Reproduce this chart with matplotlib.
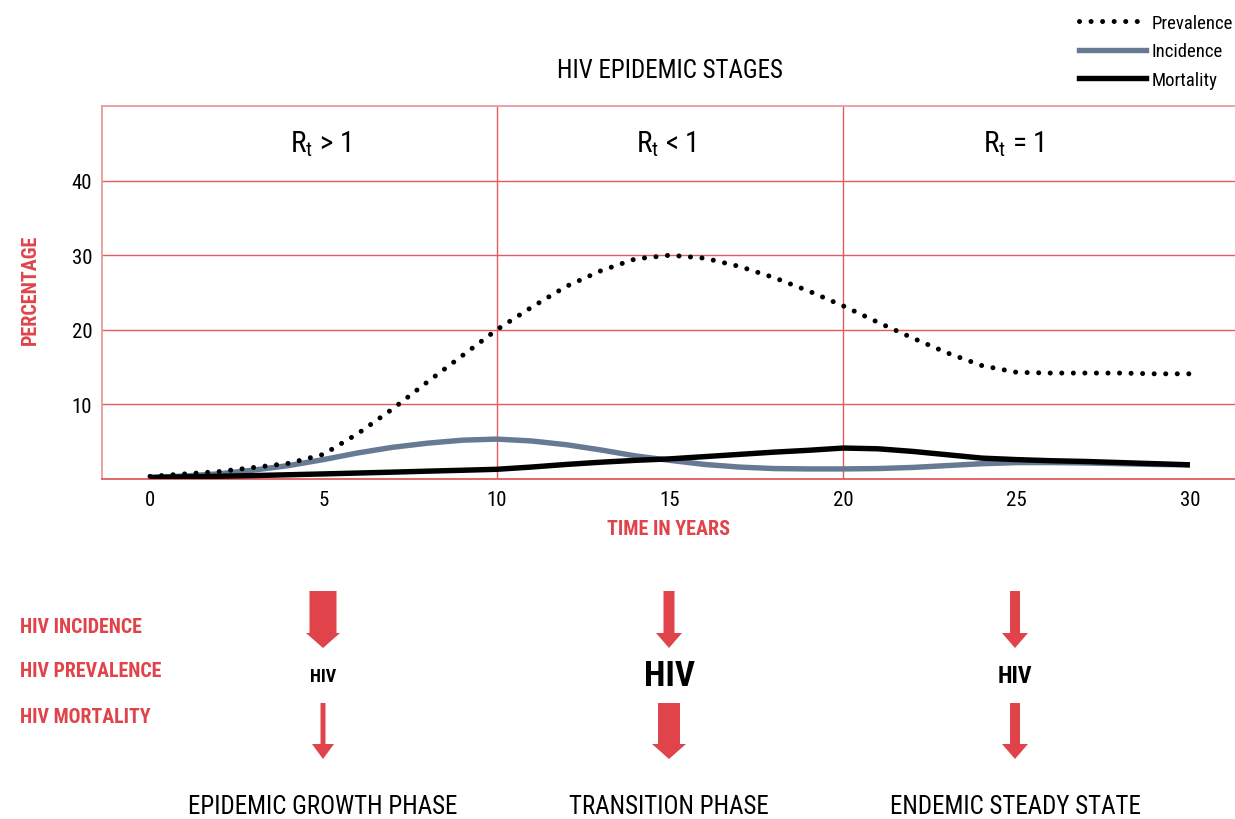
import numpy as np
import matplotlib
matplotlib.use("Agg")
import matplotlib.pyplot as plt
from matplotlib.lines import Line2D
from matplotlib.patches import FancyArrow

fams = ['Roboto Condensed', 'Archivo Narrow', 'Barlow Condensed', 'Liberation Sans Narrow', 'DejaVu Sans']
plt.rcParams['font.family'] = fams
plt.rcParams['mathtext.fontset'] = 'custom'
plt.rcParams['mathtext.rm'] = fams[0]
plt.rcParams['mathtext.it'] = fams[0]

# data
years = list(range(0, 31))
prevalence = [0.35, 0.68, 1.0, 1.55, 2.1, 3.3, 6.1, 9.4, 13.0, 16.5, 20.0,
              23.0, 25.8, 27.9, 29.5, 30.0, 29.6, 28.5, 27.0, 25.2, 23.2,
              21.0, 18.9, 16.9, 15.2, 14.3, 14.2, 14.2, 14.2, 14.1, 14.1]
incidence = [0.2, 0.4, 0.7, 1.2, 1.8, 2.6, 3.5, 4.25, 4.8, 5.2, 5.35,
             5.1, 4.6, 3.9, 3.1, 2.5, 1.95, 1.6, 1.4, 1.35, 1.35,
             1.4, 1.55, 1.8, 2.05, 2.2, 2.2, 2.15, 2.05, 1.95, 1.9]
mortality = [0.2, 0.28, 0.37, 0.46, 0.57, 0.68, 0.8, 0.92, 1.05, 1.17, 1.3,
             1.6, 1.95, 2.25, 2.5, 2.7, 3.0, 3.3, 3.6, 3.85, 4.15,
             4.05, 3.7, 3.25, 2.8, 2.6, 2.45, 2.35, 2.2, 2.05, 1.9]

stage_x = [5, 15, 25]
stage_rt = [r'R$_\mathrm{t}$ > 1', r'R$_\mathrm{t}$ < 1', r'R$_\mathrm{t}$ = 1']
stage_names = ['EPIDEMIC GROWTH PHASE', 'TRANSITION PHASE', 'ENDEMIC STEADY STATE']
row_labels = ['HIV INCIDENCE', 'HIV PREVALENCE', 'HIV MORTALITY']
# arrow sizes per stage: (shaft width, head width)
incid_arrow = [(27, 34), (11, 26), (10, 26)]
mort_arrow = [(5, 22), (22, 34), (10, 26)]
hiv_size = [13, 25, 17]

red = '#e0434a'
grid_red = '#e35b5f'
light_red = '#ec9a9c'
blue = '#667a94'

W, H = 1235, 820
fig = plt.figure(figsize=(W / 100, H / 100), dpi=100)

# overlay in pixel units for the lower diagram
ov = fig.add_axes([0, 0, 1, 1])
ov.set_xlim(0, W)
ov.set_ylim(H, 0)
ov.axis('off')

ax = fig.add_axes([102 / W, 1 - 480 / H, 1 - 102 / W, (480 - 107) / H])
ax.patch.set_alpha(0)
ax.set_xlim(-1.385, 31.3)
ax.set_ylim(0, 50)

ax.plot(years, incidence, color=blue, lw=3.9, solid_capstyle='butt', zorder=3)
ax.plot(years, mortality, color='black', lw=3.9, solid_capstyle='butt', zorder=4)
ax.plot(years, prevalence, color='black', lw=3.6, linestyle=(0, (0.01, 2.3)),
        dash_capstyle='round', zorder=5)

ax.set_xticks(range(0, 31, 5))
ax.set_yticks([10, 20, 30, 40])
ax.tick_params(length=0, labelsize=15)
ax.tick_params(axis='x', pad=8)
ax.tick_params(axis='y', pad=7)
ax.grid(axis='y', color=grid_red, lw=1)
ax.axvline(10, color=grid_red, lw=1)
ax.axvline(20, color=grid_red, lw=1)
ax.spines['right'].set_visible(False)
ax.spines['left'].set_color(light_red)
ax.spines['top'].set_color(light_red)
ax.spines['bottom'].set_color(grid_red)
for s in ['left', 'top', 'bottom']:
    ax.spines[s].set_linewidth(1.3)

for x, t in zip(stage_x, stage_rt):
    ax.text(x - 0.1, 45.0, t, fontsize=21, ha='center', va='center')

ax.set_xlabel('TIME IN YEARS', color=red, fontsize=14.5, fontweight='bold', labelpad=7)
ax.set_ylabel('PERCENTAGE', color=red, fontsize=14.5, fontweight='bold')
ax.yaxis.set_label_coords(-0.0547, 0.51)

fig.text(670 / W, 1 - 71 / H, 'HIV EPIDEMIC STAGES', fontsize=18, ha='center', va='center')

handles = [Line2D([], [], color='black', lw=3.6, linestyle=(0, (0.01, 2.3)), dash_capstyle='round'),
           Line2D([], [], color=blue, lw=3.9),
           Line2D([], [], color='black', lw=3.9)]
fig.legend(handles, ['Prevalence', 'Incidence', 'Mortality'], loc='upper right',
           bbox_to_anchor=(1.0, 1 - 13 / H), frameon=False, fontsize=13.5,
           handlelength=3.6, handletextpad=0.3, labelspacing=0.55, borderaxespad=0,
           borderpad=0.1)

# lower diagram
for i, lab in enumerate(row_labels):
    ov.text(20, [628, 672, 718][i], lab, color=red, fontsize=14.3, fontweight='bold',
            ha='left', va='center')

col_px = [323, 669, 1015]
for i, cx in enumerate(col_px):
    w, hw = incid_arrow[i]
    ov.add_patch(FancyArrow(cx, 592, 0, 57, width=w, head_width=hw, head_length=15,
                            length_includes_head=True, color=red, lw=0))
    w, hw = mort_arrow[i]
    ov.add_patch(FancyArrow(cx, 704, 0, 56, width=w, head_width=hw, head_length=15,
                            length_includes_head=True, color=red, lw=0))
    ov.text(cx, 677, 'HIV', fontsize=hiv_size[i], fontweight='bold', ha='center', va='center')
    ov.text(cx, 807, stage_names[i], fontsize=18, ha='center', va='center')

fig.savefig('out.png', dpi=100)
